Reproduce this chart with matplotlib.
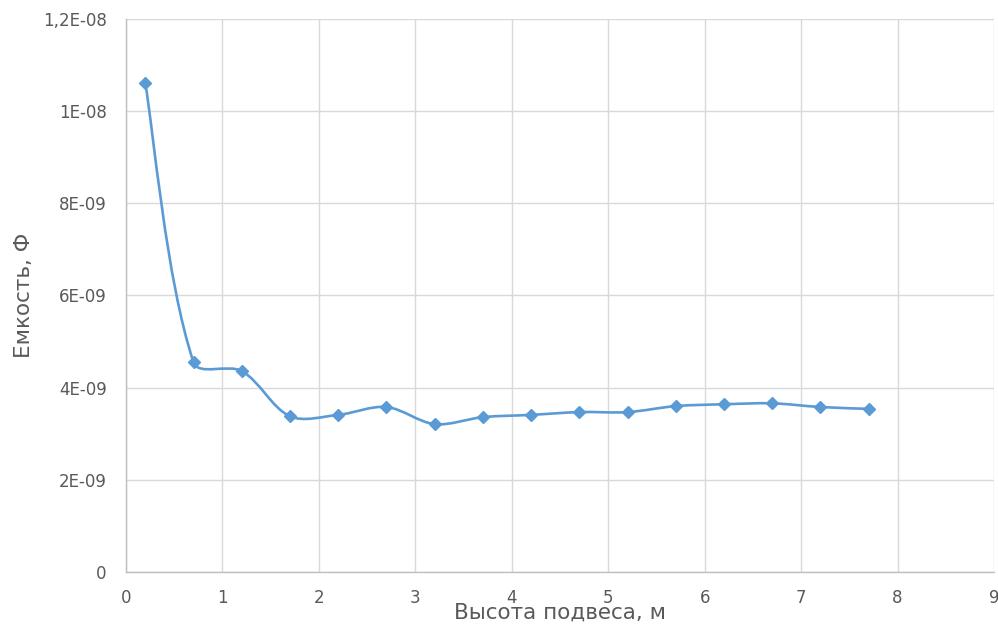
import numpy as np
import matplotlib
matplotlib.use("Agg")
import matplotlib.pyplot as plt
from matplotlib.path import Path
from matplotlib.patches import PathPatch

# Data
height = [0.2, 0.7, 1.2, 1.7, 2.2, 2.7, 3.2, 3.7, 4.2, 4.7, 5.2, 5.7, 6.2, 6.7, 7.2, 7.7]
capacity = [10.6e-9, 4.55e-9, 4.36e-9, 3.38e-9, 3.41e-9, 3.58e-9, 3.21e-9, 3.36e-9,
            3.41e-9, 3.47e-9, 3.47e-9, 3.60e-9, 3.64e-9, 3.66e-9, 3.58e-9, 3.54e-9]

xTicks = [0, 1, 2, 3, 4, 5, 6, 7, 8, 9]
yTicks = [0, 2e-9, 4e-9, 6e-9, 8e-9, 10e-9, 12e-9]
yTickLabels = ["0", "2E-09", "4E-09", "6E-09", "8E-09", "1E-08", "1,2E-08"]

lineColor = "#5B9BD5"
textColor = "#595959"


def smoothPath(ax, x, y):
    # Excel-like smoothed line: cubic Bezier, tangents weighted by chord length in pixels
    toPix = ax.transData
    pts = toPix.transform(np.column_stack((x, y)))
    n = len(pts)
    tangents = []
    for i in range(n):
        p0 = pts[max(i - 1, 0)]
        p2 = pts[min(i + 1, n - 1)]
        tangents.append(p2 - p0)
    verts = [pts[0]]
    codes = [Path.MOVETO]
    for i in range(n - 1):
        a, b = pts[i], pts[i + 1]
        dAB = np.hypot(*(b - a))
        dPrev = np.hypot(*(a - pts[i - 1])) if i > 0 else dAB
        dNext = np.hypot(*(pts[i + 2] - b)) if i + 2 < n else dAB
        c1 = a + tangents[i] * dAB / (dPrev + dAB) / 3
        c2 = b - tangents[i + 1] * dAB / (dAB + dNext) / 3
        verts += [c1, c2, b]
        codes += [Path.CURVE4] * 3
    verts = toPix.inverted().transform(np.array(verts))
    return Path(verts, codes)


fig = plt.figure(figsize=(9.98, 6.24), dpi=100)
ax = fig.add_axes([0.1263, 0.0833, 0.8697, 0.8863])

ax.set_xlim(0, 9)
ax.set_ylim(0, 12e-9)
ax.set_xticks(xTicks)
ax.set_yticks(yTicks, yTickLabels)

curve = PathPatch(smoothPath(ax, height, capacity), facecolor="none",
                  edgecolor=lineColor, linewidth=1.9, zorder=3,
                  capstyle="round", joinstyle="round")
ax.add_patch(curve)
ax.plot(height, capacity, linestyle="none", marker="D", markersize=6,
        color=lineColor, zorder=4)

ax.grid(True, color="#d9d9d9", linewidth=1)
ax.set_axisbelow(True)
for side in ["top", "right"]:
    ax.spines[side].set_visible(False)
for side in ["left", "bottom"]:
    ax.spines[side].set_color("#bfbfbf")
    ax.spines[side].set_linewidth(1)

ax.tick_params(length=0, labelsize=12, labelcolor=textColor)
ax.tick_params(axis="x", pad=12)
ax.tick_params(axis="y", pad=14)

ax.set_xlabel("Высота подвеса, м", fontsize=15.5, color=textColor, labelpad=-3)
ax.set_ylabel("Емкость, Ф", fontsize=15.5, color=textColor, labelpad=6)

fig.savefig("out.png", dpi=100)
